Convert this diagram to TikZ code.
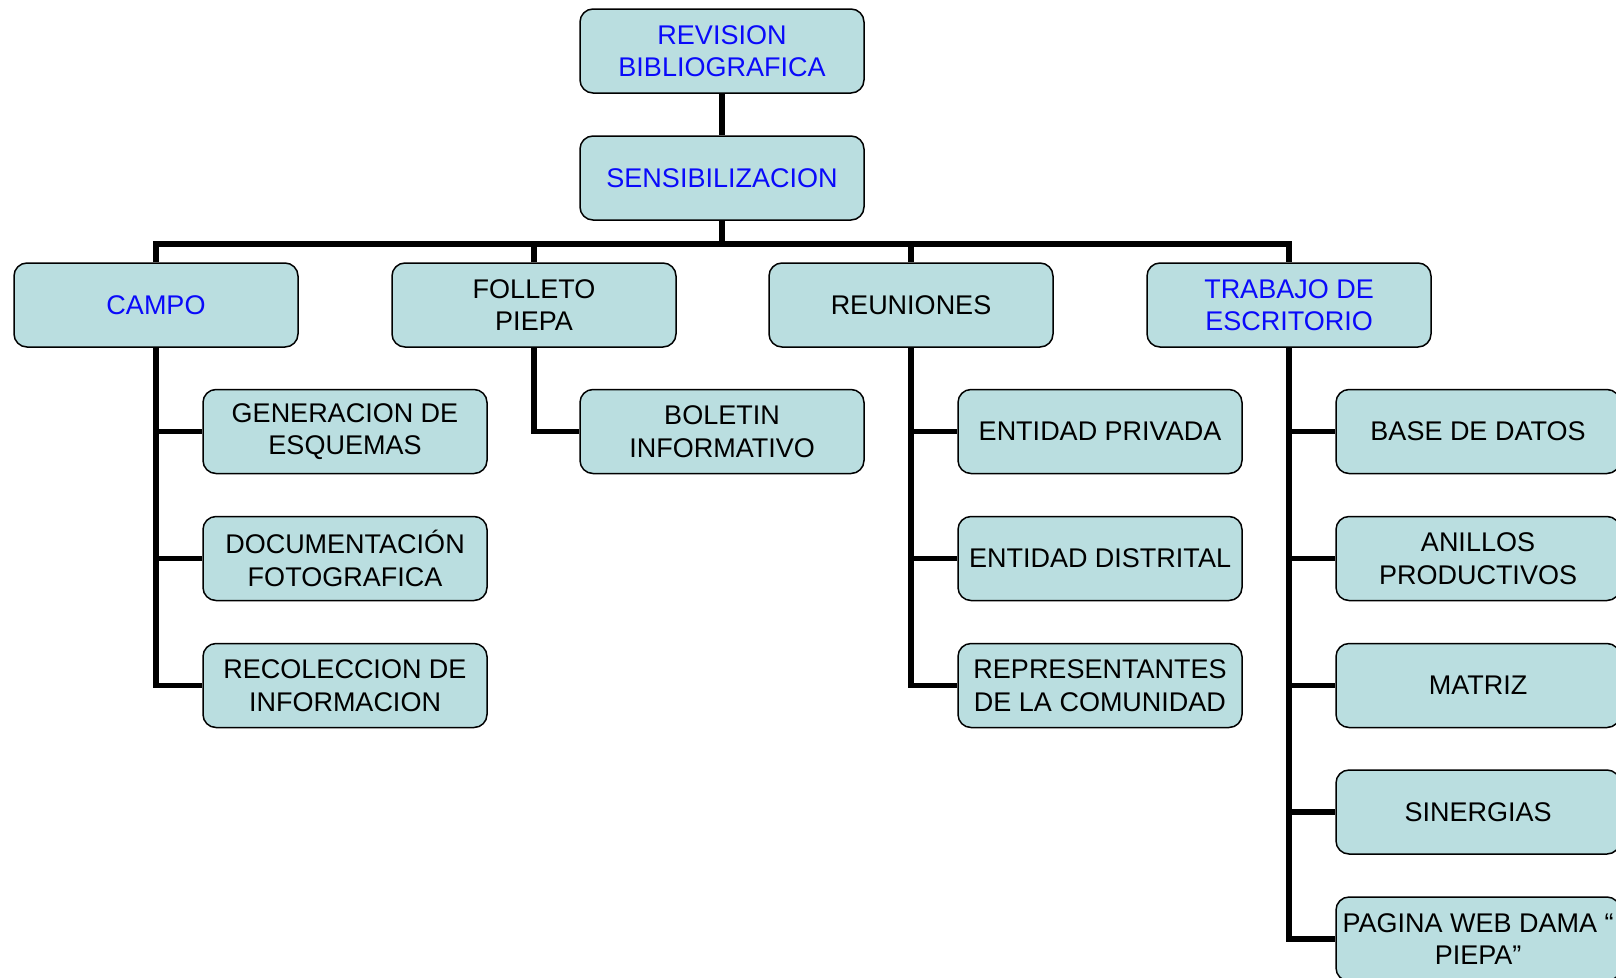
\documentclass[tikz,border=0pt]{standalone}
\usepackage{fontspec}
\setmainfont{Liberation Sans}
\usepackage{tikz}
\definecolor{boxfill}{RGB}{186,222,224}
\definecolor{boxblue}{RGB}{10,10,250}

\begin{document}
\begin{tikzpicture}[x=1pt, y=-1pt,
    box/.style={draw, line width=1.5pt, rounded corners=13pt, fill=boxfill,
      minimum width=284pt, minimum height=84pt, align=center, inner sep=2pt,
      font=\fontsize{27}{32.5}\selectfont},
    bluebox/.style={box, text=boxblue},
    link/.style={line width=5.5pt}]
  \clip (0,0) rectangle (1616,977);
  \fill[white] (0,0) rectangle (1616,977);
  % top of the chart
  \node[bluebox] (revision) at (722,51) {REVISION\\BIBLIOGRAFICA};
  \node[bluebox] (sens) at (722,178) {SENSIBILIZACION};
  \coordinate (bus) at (722,244);
  % second level
  \node[bluebox] (campo) at (156,305) {CAMPO};
  \node[box] (folleto) at (534,305) {FOLLETO\\PIEPA};
  \node[box] (reuniones) at (911,305) {REUNIONES};
  \node[bluebox] (trabajo) at (1289,305) {TRABAJO DE\\ESCRITORIO};
  % campo
  \node[box] (esquemas) at (345,431.5) {GENERACION DE\\ESQUEMAS};
  \node[box] (fotos) at (345,558.5) {DOCUMENTACIÓN\\FOTOGRAFICA};
  \node[box] (recoleccion) at (345,685.5) {RECOLECCION DE\\INFORMACION};
  % folleto
  \node[box] (boletin) at (722,431.5) {BOLETIN\\INFORMATIVO};
  % reuniones
  \node[box] (privada) at (1100,431.5) {ENTIDAD PRIVADA};
  \node[box] (distrital) at (1100,558.5) {ENTIDAD DISTRITAL};
  \node[box] (comunidad) at (1100,685.5) {REPRESENTANTES\\DE LA COMUNIDAD};
  % trabajo de escritorio
  \node[box] (datos) at (1478,431.5) {BASE DE DATOS};
  \node[box] (anillos) at (1478,558.5) {ANILLOS\\PRODUCTIVOS};
  \node[box] (matriz) at (1478,685.5) {MATRIZ};
  \node[box] (sinergias) at (1478,812) {SINERGIAS};
  \node[box] (web) at (1478,939) {PAGINA WEB DAMA “\\PIEPA”};

  \draw[link] (revision.south) -- (sens.north);
  \draw[link] (sens.south) -- (bus);
  \draw[link] (campo.north) |- (bus) -| (trabajo.north);
  \draw[link] (folleto.north) -- (folleto.north |- bus);
  \draw[link] (reuniones.north) -- (reuniones.north |- bus);

  \draw[link] (campo.south) |- (recoleccion.west);
  \draw[link] (campo.south |- esquemas.west) -- (esquemas.west);
  \draw[link] (campo.south |- fotos.west) -- (fotos.west);

  \draw[link] (folleto.south) |- (boletin.west);

  \draw[link] (reuniones.south) |- (comunidad.west);
  \draw[link] (reuniones.south |- privada.west) -- (privada.west);
  \draw[link] (reuniones.south |- distrital.west) -- (distrital.west);

  \draw[link] (trabajo.south) |- (web.west);
  \foreach \n in {datos,anillos,matriz,sinergias}
    \draw[link] (trabajo.south |- \n.west) -- (\n.west);
\end{tikzpicture}
\end{document}
